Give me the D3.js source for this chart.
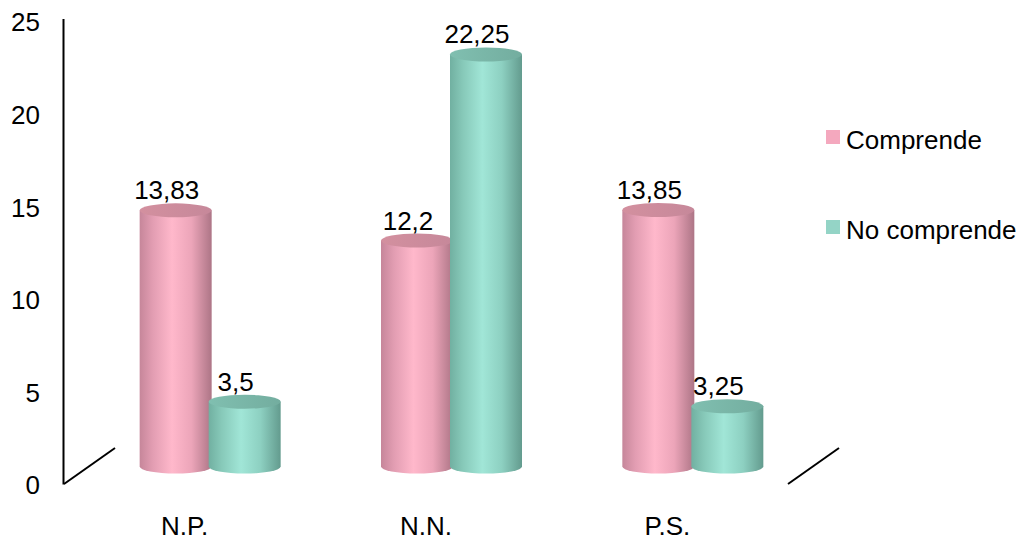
<!DOCTYPE html>
<html>
<head>
<meta charset="utf-8">
<script src="https://cdn.jsdelivr.net/npm/d3@7"></script>
<style>
  html, body { margin: 0; padding: 0; background: #fff; }
  svg { display: block; font-family: "Liberation Sans", Arial, sans-serif; }
</style>
</head>
<body>
<svg id="chart" width="1022" height="541"></svg>
<script>
// Categories and series values
const categories = ["N.P.", "N.N.", "P.S."];
const comprende = [13.83, 12.2, 13.85];
const noComprende = [3.5, 22.25, 3.25];
const comprendeLabels = ["13,83", "12,2", "13,85"];
const noComprendeLabels = ["3,5", "22,25", "3,25"];
const seriesNames = ["Comprende", "No comprende"];
const yTicks = [0, 5, 10, 15, 20, 25];

const svg = d3.select("#chart");
const fontSize = 26;

// Front plane scales
const x = d3.scaleBand().domain(categories).range([64, 788]).padding(0);
const y = d3.scaleLinear().domain([0, 25]).range([485.5, 22.5]);

// Depth of the floor plane and of the cylinders inside it
const floorDx = 51, floorDy = -36;
const barDx = 25.5, barDy = -19;
const rx = 36, ry = 7, barOffset = 34.5;

// Gradients for the cylinder bodies and tops
const defs = svg.append("defs");
function gradient(id, stops) {
  const g = defs.append("linearGradient").attr("id", id)
    .attr("x1", "0%").attr("x2", "100%").attr("y1", "0%").attr("y2", "0%");
  stops.forEach(s => g.append("stop").attr("offset", s[0]).attr("stop-color", s[1]));
}
gradient("pinkBody", [["0%", "#c6869a"], ["18%", "#e29db2"], ["45%", "#ffb8cb"], ["72%", "#eca5b9"], ["100%", "#ad7586"]]);
gradient("tealBody", [["0%", "#71b0a1"], ["18%", "#87c9b9"], ["45%", "#a1e6d7"], ["72%", "#8dd0c1"], ["100%", "#639b8e"]]);
gradient("pinkTop", [["0%", "#d3909f"], ["100%", "#c6889a"]]);
gradient("tealTop", [["0%", "#80bfb0"], ["100%", "#73ad9f"]]);

// Vertical value axis and floor edges
const axisColor = "#000";
svg.append("line")
  .attr("x1", 63.5).attr("x2", 63.5).attr("y1", 19).attr("y2", y(0) - 1)
  .attr("stroke", axisColor).attr("stroke-width", 2);
[x.range()[0], x.range()[1]].forEach(x0 => {
  svg.append("line")
    .attr("x1", x0).attr("y1", y(0) - 1.5)
    .attr("x2", x0 + floorDx).attr("y2", y(0) - 1.5 + floorDy)
    .attr("stroke", axisColor).attr("stroke-width", 2);
});

// Value axis tick labels
const yAxis = d3.axisLeft(y).tickValues(yTicks).tickSize(0).tickPadding(23.5).tickFormat(d3.format("d"));
const gy = svg.append("g").attr("transform", "translate(63.5,0)").call(yAxis);
gy.select(".domain").remove();
gy.selectAll("text").attr("font-size", fontSize).attr("font-family", "Liberation Sans, Arial, sans-serif").attr("fill", "#000");

// Category labels
svg.append("g").selectAll("text").data(categories).join("text")
  .attr("x", d => x(d) + x.bandwidth() / 2)
  .attr("y", 535)
  .attr("text-anchor", "middle")
  .attr("font-size", fontSize)
  .text(d => d);

// Cylinders
function cylinder(g, cx, value, body, top) {
  const yb = y(0) + barDy;
  const yt = y(value) + barDy;
  const l = cx - rx, r = cx + rx;
  g.append("path")
    .attr("d", `M${l},${yt} L${l},${yb} A${rx},${ry} 0 0 0 ${r},${yb} L${r},${yt} Z`)
    .attr("fill", `url(#${body})`);
  g.append("ellipse")
    .attr("cx", cx).attr("cy", yt).attr("rx", rx).attr("ry", ry)
    .attr("fill", `url(#${top})`);
}

const series = [
  { values: comprende, labels: comprendeLabels, side: -1, body: "pinkBody", top: "pinkTop" },
  { values: noComprende, labels: noComprendeLabels, side: 1, body: "tealBody", top: "tealTop" }
];

const bars = svg.append("g");
categories.forEach((c, i) => {
  const gc = x(c) + x.bandwidth() / 2 + barDx;
  series.forEach(s => {
    const cx = gc + s.side * barOffset;
    cylinder(bars, cx, s.values[i], s.body, s.top);
    bars.append("text")
      .attr("x", cx - 9)
      .attr("y", y(s.values[i]) + barDy - ry - 4)
      .attr("text-anchor", "middle")
      .attr("font-size", fontSize)
      .text(s.labels[i]);
  });
});

// Legend
const legendColors = ["#f4a8be", "#94d4c6"];
const legend = svg.append("g");
seriesNames.forEach((name, i) => {
  const yy = 130 + i * 90;
  legend.append("rect").attr("x", 826).attr("y", yy).attr("width", 14).attr("height", 14)
    .attr("fill", legendColors[i]);
  legend.append("text").attr("x", 846).attr("y", yy + 19)
    .attr("font-size", fontSize).text(name);
});
</script>
</body>
</html>
